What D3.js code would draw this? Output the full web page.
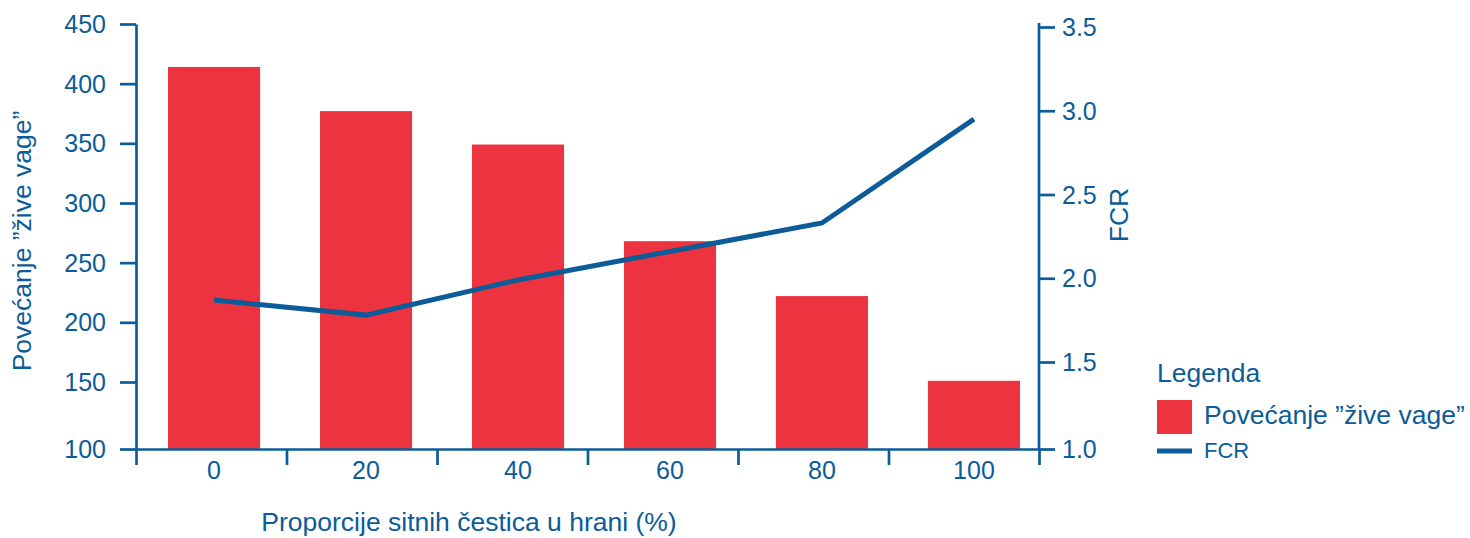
<!DOCTYPE html>
<html>
<head>
<meta charset="utf-8">
<script src="https://cdn.jsdelivr.net/npm/d3@7"></script>
<style>
  html, body { margin: 0; padding: 0; background: #ffffff; }
  svg { display: block; font-family: "Liberation Sans", Arial, Helvetica, sans-serif; }
</style>
</head>
<body>
<svg id="chart" width="1470" height="538"></svg>
<script>
// ---- data ----
const categories = ["0", "20", "40", "60", "80", "100"];
const gainValues = [414, 377, 349, 268, 222, 151];
const fcrValues = [1.87, 1.78, 1.99, 2.16, 2.33, 2.95];
const leftTicks = [100, 150, 200, 250, 300, 350, 400, 450];
const rightTicks = [1.0, 1.5, 2.0, 2.5, 3.0, 3.5];
const xTitle = "Proporcije sitnih čestica u hrani (%)";
const yLeftTitle = "Povećanje ”žive vage”";
const yRightTitle = "FCR";
const legendTitle = "Legenda";
const legendLabels = ["Povećanje ”žive vage”", "FCR"];

// ---- style ----
const BLUE = "#0b5c98";
const RED = "#ee3340";
const axisW = 2.7;

const svg = d3.select("#chart");

// scales
const xBand = d3.scaleBand().domain(categories).range([168, 1020]).paddingInner(0.394).paddingOuter(0);
const xEdge = d3.scaleLinear().domain([0, categories.length]).range([136, 1039]);
const yLeft = d3.scaleLinear().domain([100, 150, 450]).range([449, 382, 24]);
const yRight = d3.scaleLinear().domain([1.0, 1.5, 3.5]).range([449, 362, 27]);

// bars
svg.append("g").selectAll("rect")
  .data(gainValues)
  .join("rect")
  .attr("x", (d, i) => xBand(categories[i]))
  .attr("width", xBand.bandwidth())
  .attr("y", d => yLeft(d))
  .attr("height", d => yLeft(100) - yLeft(d))
  .attr("fill", RED);

// FCR line
const line = d3.line()
  .x((d, i) => xBand(categories[i]) + xBand.bandwidth() / 2)
  .y(d => yRight(d));
svg.append("path")
  .datum(fcrValues)
  .attr("d", line)
  .attr("fill", "none")
  .attr("stroke", BLUE)
  .attr("stroke-width", 5)
  .attr("stroke-linejoin", "miter");

function styleAxis(g) {
  g.selectAll("path, line").attr("stroke", BLUE).attr("stroke-width", axisW);
  g.selectAll("text").attr("fill", BLUE).attr("font-size", 25).attr("font-family", null);
}

// left axis
const gLeft = svg.append("g").attr("transform", "translate(136,0)")
  .call(d3.axisLeft(yLeft).tickValues(leftTicks).tickFormat(d3.format("d")).tickSize(16).tickSizeOuter(0).tickPadding(14));
styleAxis(gLeft);
gLeft.selectAll("text").attr("dy", "0.34em");

// right axis
const gRight = svg.append("g").attr("transform", "translate(1039,0)")
  .call(d3.axisRight(yRight).tickValues(rightTicks).tickFormat(d3.format(".1f")).tickSize(16).tickSizeOuter(0).tickPadding(7));
styleAxis(gRight);
gRight.selectAll("text").attr("dy", "0.34em");
gRight.select(".domain").attr("d", "M0,23V449");

// bottom axis (boundary ticks)
const gBottom = svg.append("g").attr("transform", "translate(0,449)")
  .call(d3.axisBottom(xEdge).tickValues(d3.range(categories.length + 1)).tickFormat("").tickSize(16).tickSizeOuter(0));
styleAxis(gBottom);

// bottom category labels
svg.append("g").selectAll("text")
  .data(categories)
  .join("text")
  .attr("x", d => xBand(d) + xBand.bandwidth() / 2)
  .attr("y", 479)
  .attr("text-anchor", "middle")
  .attr("fill", BLUE)
  .attr("font-size", 25)
  .text(d => d);

// axis titles
svg.append("text")
  .attr("x", 469).attr("y", 531)
  .attr("text-anchor", "middle")
  .attr("fill", BLUE).attr("font-size", 26.5)
  .text(xTitle);

svg.append("text")
  .attr("transform", "translate(31,241) rotate(-90)")
  .attr("text-anchor", "middle")
  .attr("fill", BLUE).attr("font-size", 26.5)
  .text(yLeftTitle);

svg.append("text")
  .attr("transform", "translate(1128,215) rotate(-90)")
  .attr("text-anchor", "middle")
  .attr("fill", BLUE).attr("font-size", 26.5)
  .text(yRightTitle);

// legend
const lg = svg.append("g");
lg.append("text").attr("x", 1157).attr("y", 382)
  .attr("fill", BLUE).attr("font-size", 26.5).text(legendTitle);
lg.append("rect").attr("x", 1157).attr("y", 400).attr("width", 35).attr("height", 34).attr("fill", RED);
lg.append("text").attr("x", 1204).attr("y", 424)
  .attr("fill", BLUE).attr("font-size", 26.5).text(legendLabels[0]);
lg.append("line").attr("x1", 1157).attr("x2", 1192).attr("y1", 451).attr("y2", 451)
  .attr("stroke", BLUE).attr("stroke-width", 5);
lg.append("text").attr("x", 1204).attr("y", 458)
  .attr("fill", BLUE).attr("font-size", 22).text(legendLabels[1]);
</script>
</body>
</html>
